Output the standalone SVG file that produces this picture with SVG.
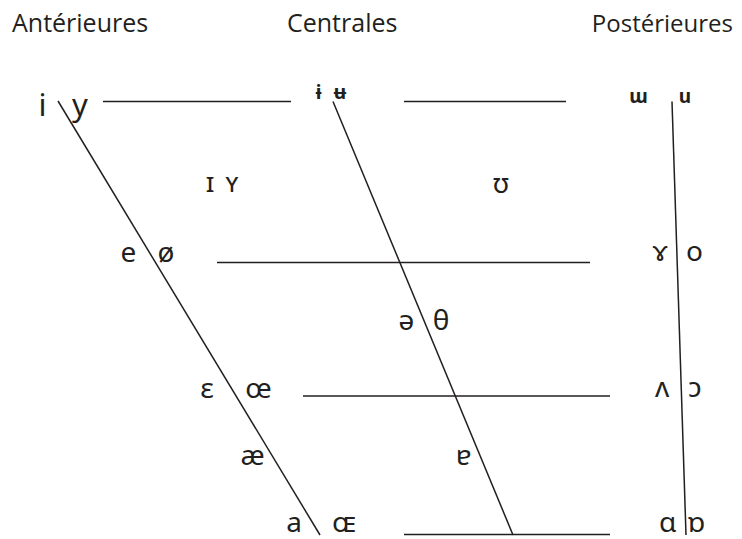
<svg xmlns="http://www.w3.org/2000/svg" width="742" height="539" viewBox="0 0 742 539">
<style>
.hdr{font-family:"Open Sans","Noto Sans",sans-serif;font-size:25px;fill:#231f20}
.v{font-family:"Noto Sans","DejaVu Sans",sans-serif;font-size:28px;fill:#231f20;text-anchor:middle}
.lg{font-size:31px}
.md{font-size:27px}
.xs{font-size:19px;font-weight:bold}
.ln{stroke:#231f20;stroke-width:1.5;fill:none}
</style>
<rect width="742" height="539" fill="#ffffff"/>
<g id="headers">
<text class="hdr" x="12" y="32">Antérieures</text>
<text class="hdr" x="287" y="32">Centrales</text>
<text class="hdr" x="733" y="32" text-anchor="end" style="font-size:24px">Postérieures</text>
</g>
<g id="connectors">
<line class="ln" x1="103" y1="101.5" x2="291" y2="101.5"/>
<line class="ln" x1="404" y1="101.5" x2="566" y2="101.5"/>
<line class="ln" x1="217" y1="262.5" x2="590" y2="262.5"/>
<line class="ln" x1="303" y1="396" x2="610" y2="396"/>
<line class="ln" x1="404" y1="534.5" x2="610" y2="534.5"/>
<line class="ln" x1="58" y1="101" x2="320" y2="535"/>
<line class="ln" x1="333" y1="101.5" x2="513" y2="535"/>
<line class="ln" x1="672" y1="101.5" x2="686" y2="535"/>
</g>
<g id="close-front"><text class="v lg" x="42.5" y="116">i</text><text class="v lg" x="80" y="116">y</text></g>
<g id="close-central"><text class="v xs" x="318.5" y="99">ɨ</text><text class="v xs" x="340" y="99">ʉ</text></g>
<g id="close-back"><text class="v xs" x="638.5" y="103">ɯ</text><text class="v xs" x="685" y="103">u</text></g>
<g id="near-close-front"><text class="v md" x="210" y="192">ɪ</text><text class="v md" x="232" y="192">ʏ</text></g>
<g id="near-close-back"><text class="v md" x="501" y="193">ʊ</text></g>
<g id="close-mid-front"><text class="v" x="128.5" y="262">e</text><text class="v" x="166" y="262">ø</text></g>
<g id="close-mid-back"><text class="v" x="660" y="261">ɤ</text><text class="v" x="694.5" y="261">o</text></g>
<g id="mid-central"><text class="v" x="406.5" y="330">ə</text><text class="v" x="441" y="330">θ</text></g>
<g id="open-mid-front"><text class="v" x="207" y="398">ɛ</text><text class="v" x="258.5" y="398">œ</text></g>
<g id="open-mid-back"><text class="v" x="662" y="397">ʌ</text><text class="v" x="695" y="397">ɔ</text></g>
<g id="near-open-front"><text class="v" x="252.5" y="465">æ</text></g>
<g id="near-open-central"><text class="v" x="463.5" y="465">ɐ</text></g>
<g id="open-front"><text class="v" x="294" y="532">a</text><text class="v" x="344" y="532">ɶ</text></g>
<g id="open-back"><text class="v" x="667.5" y="532">ɑ</text><text class="v" x="696.5" y="532">ɒ</text></g>
</svg>
